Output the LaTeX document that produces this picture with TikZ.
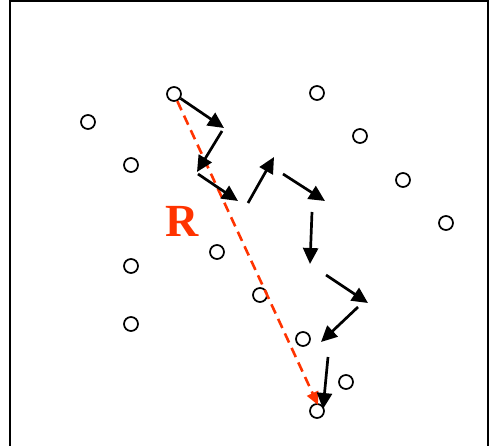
\documentclass[tikz,border=0pt]{standalone}
\usepackage{fontspec}
\setmainfont{Liberation Serif}
\usetikzlibrary{arrows.meta}
\definecolor{WalkRed}{HTML}{FF3300}
\tikzset{
  % Scatterer: small open circle
  dot/.style={
    circle, draw=black, fill=white, line width=1.7pt,
    minimum size=14pt, inner sep=0pt
  },
  % One step of the walk
  stepline/.style={
    -{Triangle[length=16pt,width=15pt]},
    line width=2.7pt, color=black
  },
  % Net displacement
  netline/.style={
    -{Triangle[length=13pt,width=12pt]},
    line width=2.6pt, color=WalkRed, dash pattern=on 10pt off 6pt
  },
  % Label of net displacement
  lbl/.style={font=\fontsize{46}{46}\selectfont\bfseries, color=WalkRed}
}
\begin{document}
\begin{tikzpicture}[x=1pt,y=-1pt]
  \useasboundingbox (0,0) rectangle (490,446);
  % Frame, open at the bottom
  \draw[line width=2pt] (10,460) -- (10,1) -- (488,1) -- (488,460);

  % Scatterers
  \node[dot] (start) at (174,94)  {};
  \node[dot] (p1)    at (88,122)  {};
  \node[dot] (p2)    at (131,165) {};
  \node[dot] (p3)    at (317,93)  {};
  \node[dot] (p4)    at (360,136) {};
  \node[dot] (p5)    at (403,180) {};
  \node[dot] (p6)    at (446,223) {};
  \node[dot] (p7)    at (217,252) {};
  \node[dot] (p8)    at (131,266) {};
  \node[dot] (p9)    at (260,295) {};
  \node[dot] (p10)   at (131,324) {};
  \node[dot] (p11)   at (303,339) {};
  \node[dot] (p12)   at (346,382) {};
  \node[dot] (stop)  at (317,411) {};

  % Step ends
  \coordinate (a1) at (224,128);
  \coordinate (b2) at (222,131); \coordinate (a2) at (197,172);
  \coordinate (b3) at (198,174); \coordinate (a3) at (238,201);
  \coordinate (b4) at (248,203); \coordinate (a4) at (274,157);
  \coordinate (b5) at (283,174); \coordinate (a5) at (325,201);
  \coordinate (b6) at (312,212); \coordinate (a6) at (310,264);
  \coordinate (b7) at (326,275); \coordinate (a7) at (368,303);
  \coordinate (b8) at (358,307); \coordinate (a8) at (321,342);
  \coordinate (b9) at (328,357); \coordinate (a9) at (323,409);

  % Net displacement
  \draw[netline] (start) -- (318,405) coordinate (rend);
  \node[lbl] (rlab) at (182,221) {R};

  % The walk
  \draw[stepline] (start) -- (a1);
  \foreach \i in {2,...,9}
    \draw[stepline] (b\i) -- (a\i);
\end{tikzpicture}
\end{document}
